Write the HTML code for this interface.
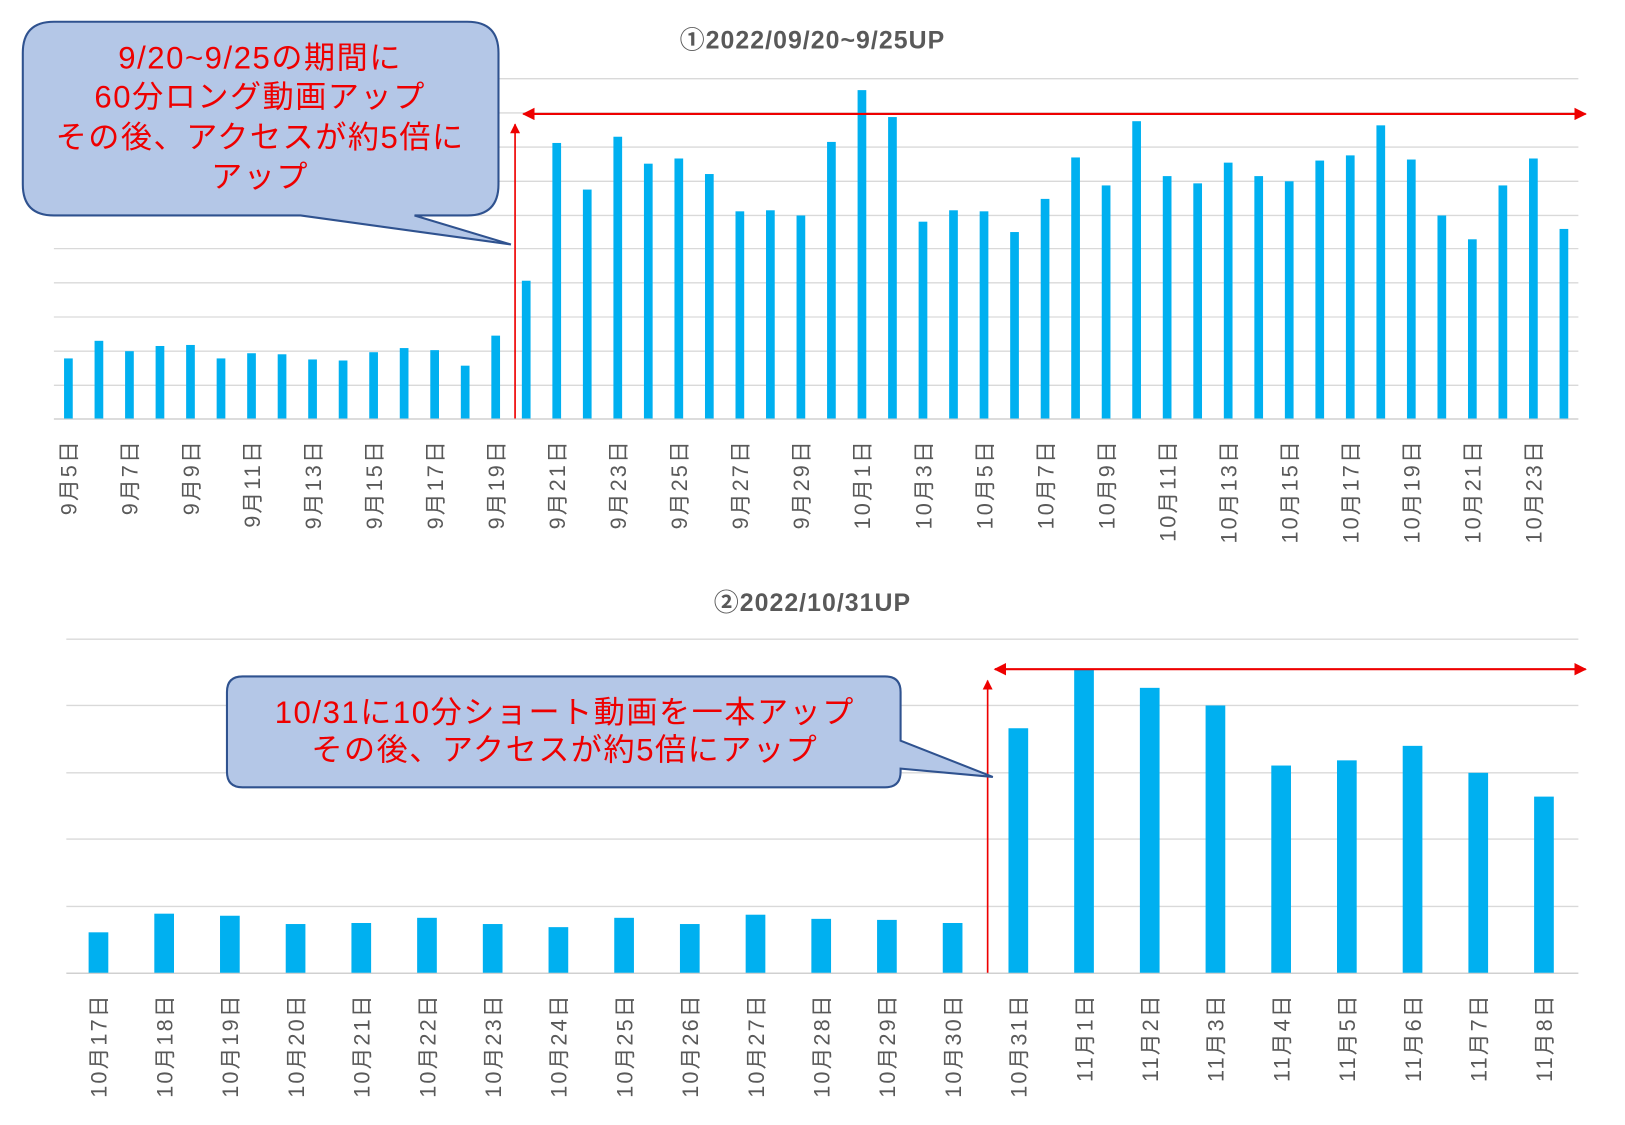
<!DOCTYPE html>
<html><head><meta charset="utf-8"><style>
html,body{margin:0;padding:0;background:#fff}
svg{display:block}
text{font-family:"Liberation Sans","Noto Sans CJK JP",sans-serif}
</style></head><body>
<svg width="1625" height="1125" viewBox="0 0 1568 1086" preserveAspectRatio="none" xmlns="http://www.w3.org/2000/svg">
<defs>
<marker id="ah" viewBox="0 0 10 10" refX="9" refY="5" markerWidth="6" markerHeight="6" orient="auto-start-reverse"><path d="M0,0L10,5L0,10z" fill="#e00"/></marker>
</defs>
<g id="c1"></g>
<g id="c2"></g>
<script>
(function(){
const NS="http://www.w3.org/2000/svg";
function el(p,t,a,txt){const e=document.createElementNS(NS,t);for(const k in a)e.setAttribute(k,a[k]);if(txt!==undefined)e.textContent=txt;p.appendChild(e);return e;}
const g1=document.getElementById('c1'),g2=document.getElementById('c2');
[76,109,142,175,208,240,273,306,339,372].forEach(y=>el(g1,'line',{x1:52,x2:1523,y1:y,y2:y,stroke:'#d9d9d9','stroke-width':1.3}));
el(g1,'line',{x1:52,x2:1523,y1:404.5,y2:404.5,stroke:'#d0d0d0','stroke-width':1.5});
const t1=[346,329,339,334,333,346,341,342,347,348,340,336,338,353,324,271,138,183,132,158,153,168,204,203,208,137,87,113,214,203,204,224,192,152,179,117,170,177,157,170,175,155,150,121,154,208,231,179,153,221];
t1.forEach((t,i)=>{const cx=66+i*29.45;el(g1,'rect',{x:cx-4.2,y:t,width:8.4,height:404-t,fill:'#00b0f0'});
 if(i%2==0){let d=5+i;let m=9;if(d>30){d-=30;m=10;}const s=m+'月'+d+'日';el(g1,'text',{x:0,y:0,transform:`translate(${cx+8},424) rotate(-90)`,'text-anchor':'end','font-size':21,'letter-spacing':2,fill:'#595959'},s);}
});
el(g1,'text',{x:784,y:47,'text-anchor':'middle','font-size':24,'letter-spacing':1,'font-weight':'bold',fill:'#595959'},'①2022/09/20~9/25UP');
el(g1,'line',{x1:497,y1:404,x2:497,y2:120,stroke:'#e00','stroke-width':1.6,'marker-end':'url(#ah)'});
el(g1,'line',{x1:505,y1:110,x2:1530,y2:110,stroke:'#e00','stroke-width':2,'marker-end':'url(#ah)','marker-start':'url(#ah)'});
el(g1,'path',{d:'M52,21H451Q481,21 481,51V178Q481,208 451,208H400L493,236L290,208H52Q22,208 22,178V51Q22,21 52,21Z',fill:'#b4c7e7',stroke:'#2f528f','stroke-width':2});
[['9/20~9/25の期間に',66],['60分ロング動画アップ',104],['その後、アクセスが約5倍に',143],['アップ',181]].forEach(a=>el(g1,'text',{x:251,y:a[1],'text-anchor':'middle','font-size':30,'letter-spacing':1.5,fill:'#e00'},a[0]));
[617,681,746,810,875].forEach(y=>el(g2,'line',{x1:64,x2:1523,y1:y,y2:y,stroke:'#d9d9d9','stroke-width':1.3}));
el(g2,'line',{x1:64,x2:1523,y1:939.5,y2:939.5,stroke:'#d0d0d0','stroke-width':1.5});
const t2=[900,882,884,892,891,886,892,895,886,892,883,887,888,891,703,646,664,681,739,734,720,746,769];
t2.forEach((t,i)=>{const cx=95+i*63.4;el(g2,'rect',{x:cx-9.5,y:t,width:19,height:939-t,fill:'#00b0f0'});
 let s=i<15?('10月'+(17+i)+'日'):('11月'+(i-14)+'日');
 el(g2,'text',{x:0,y:0,transform:`translate(${cx+8},959) rotate(-90)`,'text-anchor':'end','font-size':21,'letter-spacing':2,fill:'#595959'},s);
});
el(g2,'text',{x:784,y:590,'text-anchor':'middle','font-size':24,'letter-spacing':1,'font-weight':'bold',fill:'#595959'},'②2022/10/31UP');
el(g2,'line',{x1:953,y1:939,x2:953,y2:657,stroke:'#e00','stroke-width':1.6,'marker-end':'url(#ah)'});
el(g2,'line',{x1:960,y1:646,x2:1530,y2:646,stroke:'#e00','stroke-width':2,'marker-end':'url(#ah)','marker-start':'url(#ah)'});
el(g2,'path',{d:'M234,653H854Q869,653 869,668V715L958,750L869,742V745Q869,760 854,760H234Q219,760 219,745V668Q219,653 234,653Z',fill:'#b4c7e7',stroke:'#2f528f','stroke-width':2});
[['10/31に10分ショート動画を一本アップ',698],['その後、アクセスが約5倍にアップ',734]].forEach(a=>el(g2,'text',{x:545,y:a[1],'text-anchor':'middle','font-size':30,'letter-spacing':1.5,fill:'#e00'},a[0]));
})();
</script>
</svg>
</body></html>
